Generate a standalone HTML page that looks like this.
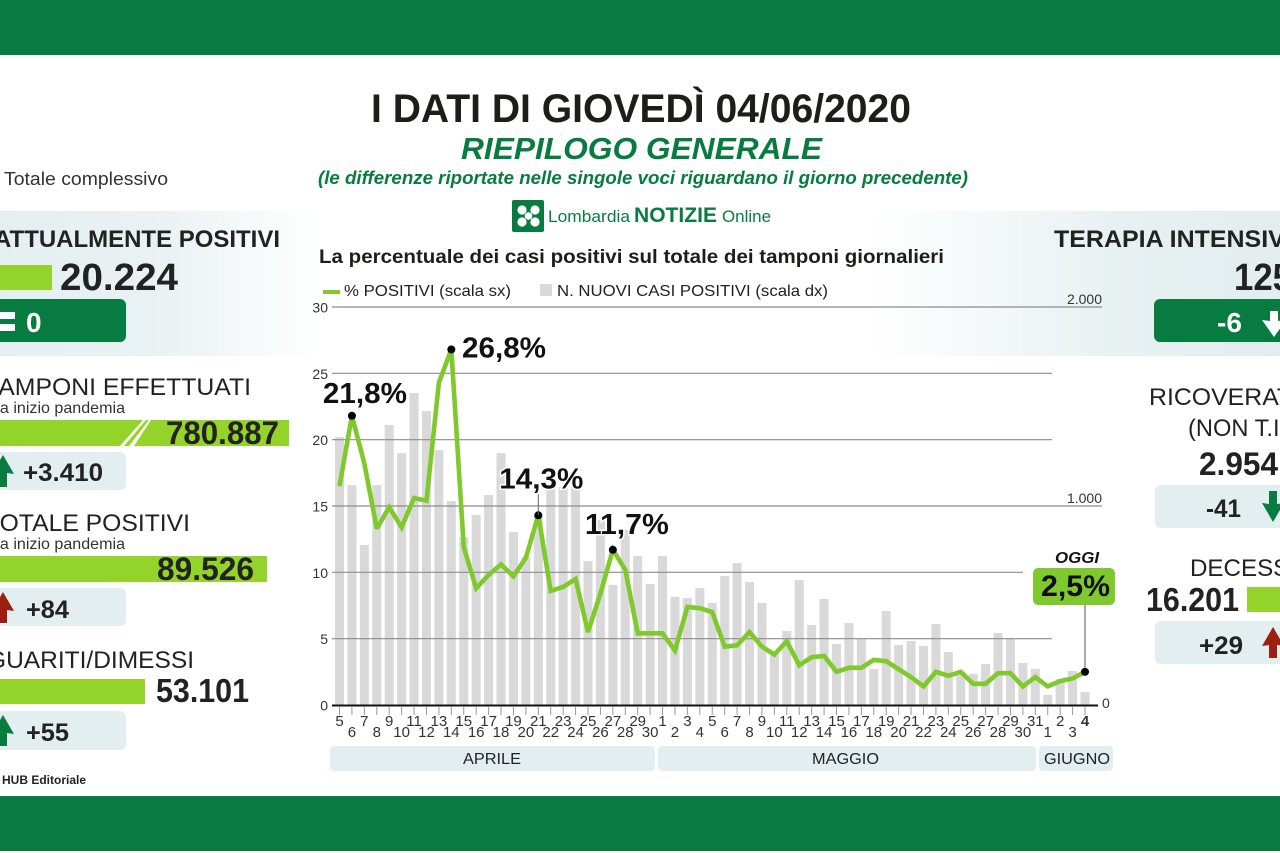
<!DOCTYPE html>
<html lang="it">
<head>
<meta charset="utf-8">
<title>I dati di giovedì 04/06/2020</title>
<style>
html,body{margin:0;padding:0;background:#fff;}
svg{display:block;font-family:"Liberation Sans",Arial,sans-serif;}
.d{fill:#222;}
.b{font-weight:bold;}
</style>
</head>
<body>
<svg id="infographic" xmlns="http://www.w3.org/2000/svg" width="1280" height="853" viewBox="0 0 1280 853">
<defs>
<linearGradient id="panelGrad" x1="0" x2="1" y1="0" y2="0">
<stop offset="0" stop-color="#e5eff1"/>
<stop offset="0.12" stop-color="#e9f1f3"/>
<stop offset="0.18" stop-color="#f3f8f8"/>
<stop offset="0.25" stop-color="#ffffff"/>
<stop offset="0.68" stop-color="#ffffff"/>
<stop offset="0.87" stop-color="#e8f1f2"/>
<stop offset="1" stop-color="#e3edef"/>
</linearGradient>
</defs>

<rect width="1280" height="853" fill="#ffffff"/>
<rect x="0" y="0" width="1280" height="55" fill="#087c40"/>
<rect x="0" y="796" width="1280" height="55" fill="#087c40"/>
<rect x="0" y="211" width="1280" height="145" fill="url(#panelGrad)"/>

<text x="371" y="122" font-size="40" class="b" fill="#1d1d1b" textLength="540" lengthAdjust="spacingAndGlyphs">I DATI DI GIOVEDÌ 04/06/2020</text>
<text x="461" y="159" font-size="31" font-weight="bold" font-style="italic" fill="#087c40" textLength="361" lengthAdjust="spacingAndGlyphs">RIEPILOGO GENERALE</text>
<text x="318" y="184" font-size="18" font-weight="bold" font-style="italic" fill="#087c40" textLength="650" lengthAdjust="spacingAndGlyphs">(le differenze riportate nelle singole voci riguardano il giorno precedente)</text>
<text x="4" y="185" font-size="18" fill="#333" textLength="164" lengthAdjust="spacingAndGlyphs">Totale complessivo</text>

<g>
<rect x="512" y="200" width="32" height="32" rx="2" fill="#087c40"/>
<g fill="#fff">
<circle cx="522" cy="210" r="4.6"/><circle cx="535" cy="210" r="4.6"/><circle cx="522" cy="222" r="4.6"/><circle cx="535" cy="222" r="4.6"/><circle cx="528.5" cy="216" r="3.8"/>
</g>
<text x="548" y="222" font-size="17" fill="#087c40" textLength="82" lengthAdjust="spacingAndGlyphs">Lombardia</text>
<text x="634" y="222" font-size="21" font-weight="bold" fill="#087c40" textLength="83" lengthAdjust="spacingAndGlyphs">NOTIZIE</text>
<text x="722" y="222" font-size="17" fill="#087c40" textLength="49" lengthAdjust="spacingAndGlyphs">Online</text>
</g>

<!-- LEFT COLUMN -->
<g>
<text x="-6" y="247" font-size="24" class="b d" textLength="286" lengthAdjust="spacingAndGlyphs">ATTUALMENTE POSITIVI</text>
<rect x="0" y="265" width="52" height="25" fill="#94d42a"/>
<text x="60" y="290" font-size="38" class="b d" textLength="118" lengthAdjust="spacingAndGlyphs">20.224</text>
<rect x="-10" y="299" width="136" height="43" rx="6" fill="#087c40"/>
<rect x="0" y="312" width="15" height="7" fill="#fff"/>
<rect x="0" y="324" width="15" height="7" fill="#fff"/>
<text x="26" y="332" font-size="28" font-weight="bold" fill="#fff">0</text>

<text x="-15" y="395" font-size="24" fill="#222" textLength="266" lengthAdjust="spacingAndGlyphs">TAMPONI EFFETTUATI</text>
<text x="-9" y="413" font-size="16" fill="#333" textLength="134" lengthAdjust="spacingAndGlyphs">da inizio pandemia</text>
<rect x="0" y="420" width="289" height="26" fill="#94d42a"/>
<polygon points="134,446 120,446 143,420 151,420" fill="#fff"/>
<polygon points="129,446 124,446 146,420 149,420" fill="#94d42a"/>
<text x="166" y="444" font-size="32" class="b d" textLength="113" lengthAdjust="spacingAndGlyphs">780.887</text>
<rect x="-10" y="452" width="136" height="38" rx="6" fill="#e2eeef"/>
<polygon points="3,455 14,474 7,473 7,487 -1,487 -1,473 -8,474" fill="#087c40"/>
<text x="23" y="481" font-size="25" class="b d" textLength="80" lengthAdjust="spacingAndGlyphs">+3.410</text>

<text x="-15" y="531" font-size="24" fill="#222" textLength="205" lengthAdjust="spacingAndGlyphs">TOTALE POSITIVI</text>
<text x="-9" y="549" font-size="16" fill="#333" textLength="134" lengthAdjust="spacingAndGlyphs">da inizio pandemia</text>
<rect x="0" y="556" width="267" height="26" fill="#94d42a"/>
<text x="157" y="580" font-size="32" class="b d" textLength="97" lengthAdjust="spacingAndGlyphs">89.526</text>
<rect x="-10" y="588" width="136" height="38" rx="6" fill="#e2eeef"/>
<polygon points="3,592 14,611 7,610 7,623 -1,623 -1,610 -8,611" fill="#9c2010"/>
<text x="26" y="618" font-size="25" class="b d" textLength="43" lengthAdjust="spacingAndGlyphs">+84</text>

<text x="-13" y="668" font-size="24" fill="#222" textLength="207" lengthAdjust="spacingAndGlyphs">GUARITI/DIMESSI</text>
<rect x="0" y="679" width="145" height="25" fill="#94d42a"/>
<text x="156" y="702" font-size="33" class="b d" textLength="93" lengthAdjust="spacingAndGlyphs">53.101</text>
<rect x="-10" y="711" width="136" height="39" rx="6" fill="#e2eeef"/>
<polygon points="3,715 14,734 7,733 7,746 -1,746 -1,733 -8,734" fill="#087c40"/>
<text x="26" y="741" font-size="25" class="b d" textLength="43" lengthAdjust="spacingAndGlyphs">+55</text>

<text x="2" y="784" font-size="12" class="b d" textLength="84" lengthAdjust="spacingAndGlyphs">HUB Editoriale</text>
</g>

<!-- RIGHT COLUMN -->
<g>
<text x="1054" y="247" font-size="24" class="b d" textLength="247" lengthAdjust="spacingAndGlyphs">TERAPIA INTENSIVA</text>
<text x="1234" y="290" font-size="38" class="b d" textLength="58" lengthAdjust="spacingAndGlyphs">125</text>
<rect x="1154" y="299" width="140" height="43" rx="6" fill="#087c40"/>
<text x="1217" y="332" font-size="28" font-weight="bold" fill="#fff">-6</text>
<polygon points="1274,337 1262,320 1270,321 1270,311 1278,311 1278,321 1286,320" fill="#fff"/>

<text x="1149" y="405" font-size="24" fill="#222" textLength="150" lengthAdjust="spacingAndGlyphs">RICOVERATI</text>
<text x="1188" y="436" font-size="24" fill="#222" textLength="106" lengthAdjust="spacingAndGlyphs">(NON T.I.)</text>
<text x="1199" y="475" font-size="32" class="b d" textLength="79" lengthAdjust="spacingAndGlyphs">2.954</text>
<rect x="1155" y="485" width="139" height="43" rx="6" fill="#e2eeef"/>
<text x="1206" y="517" font-size="25" class="b d" textLength="35" lengthAdjust="spacingAndGlyphs">-41</text>
<polygon points="1273,522 1262,503 1269,504 1269,491 1277,491 1277,504 1284,503" fill="#087c40"/>

<text x="1190" y="576" font-size="24" fill="#222" textLength="106" lengthAdjust="spacingAndGlyphs">DECESSI</text>
<text x="1146" y="611" font-size="33" class="b d" textLength="93" lengthAdjust="spacingAndGlyphs">16.201</text>
<rect x="1247" y="587" width="33" height="25" fill="#94d42a"/>
<rect x="1155" y="621" width="139" height="43" rx="6" fill="#e2eeef"/>
<text x="1199" y="654" font-size="25" class="b d" textLength="44" lengthAdjust="spacingAndGlyphs">+29</text>
<polygon points="1273,627 1284,646 1277,645 1277,658 1269,658 1269,645 1262,646" fill="#9c2010"/>
</g>

<!-- CHART -->
<g id="chart">
<text x="319" y="263" font-size="19" class="b" fill="#1d1d1b" textLength="625" lengthAdjust="spacingAndGlyphs">La percentuale dei casi positivi sul totale dei tamponi giornalieri</text>
<g>
<g>
<line x1="323" x2="340" y1="292" y2="292" stroke="#80ca2e" stroke-width="4"/>
<text x="344" y="296" font-size="16" fill="#222" textLength="167" lengthAdjust="spacingAndGlyphs">% POSITIVI (scala sx)</text>
</g>
<g>
<rect x="540" y="284" width="12" height="12" fill="#d9d9d9"/>
<text x="557" y="296" font-size="16" fill="#222" textLength="271" lengthAdjust="spacingAndGlyphs">N. NUOVI CASI POSITIVI (scala dx)</text>
</g>
</g>
<g id="bars"></g>
<g id="grid"></g>
<g id="xaxis"></g>
<g id="yaxis"></g>
<g id="yaxisr"></g>
<polyline id="pctline" fill="none" stroke="#7fc92d" stroke-width="4.6" stroke-linejoin="miter" stroke-miterlimit="2.5"></polyline>
<g id="callouts"></g>
<g>
<rect x="330" y="746" width="325" height="25" rx="4" fill="#e2eeef"/>
<text x="492" y="764" font-size="16" fill="#222" text-anchor="middle" textLength="58" lengthAdjust="spacingAndGlyphs">APRILE</text>
<rect x="658" y="746" width="378" height="25" rx="4" fill="#e2eeef"/>
<text x="845.5" y="764" font-size="16" fill="#222" text-anchor="middle" textLength="67" lengthAdjust="spacingAndGlyphs">MAGGIO</text>
<rect x="1039" y="746" width="74" height="25" rx="4" fill="#e2eeef"/>
<text x="1077" y="764" font-size="16" fill="#222" text-anchor="middle" textLength="66" lengthAdjust="spacingAndGlyphs">GIUGNO</text>
</g>
</g>
</svg>

<script>
var dayLabels = ["5","6","7","8","9","10","11","12","13","14","15","16","17","18","19","20","21","22","23","24","25","26","27","28","29","30","1","2","3","4","5","6","7","8","9","10","11","12","13","14","15","16","17","18","19","20","21","22","23","24","25","26","27","28","29","30","31","1","2","3","4"];
var pctValues = [16.5,21.8,18.2,13.3,14.9,13.4,15.6,15.4,24.3,26.8,11.9,8.8,9.8,10.6,9.7,11.1,14.3,8.6,8.9,9.5,5.5,8.4,11.7,10.2,5.4,5.4,5.4,4.1,7.4,7.3,7.0,4.4,4.5,5.5,4.4,3.8,4.8,3.0,3.6,3.7,2.5,2.8,2.8,3.4,3.3,2.7,2.1,1.4,2.5,2.2,2.5,1.6,1.6,2.4,2.4,1.4,2.1,1.4,1.8,2.0,2.5];
var newCases = [1347,1105,804,1105,1407,1266,1568,1477,1281,1025,844,955,1055,1266,869,744,950,1095,1095,1095,723,930,603,880,749,608,749,543,538,588,513,648,713,618,513,266,372,628,402,533,307,412,332,181,472,302,322,297,407,266,166,156,206,362,332,211,181,50,131,171,65];
var leftTicks = [0,5,10,15,20,25,30];
var rightTicks = [0,1000,2000];
var rightTickLabels = ["0","1.000","2.000"];
var peakIndexes = [1,9,16,22];
var todayIndex = 60;
var todayLabel = "OGGI";

var NS = "http://www.w3.org/2000/svg";
function xPos(i){ return 339.5 + i * 12.425; }
function yLeft(v){ return 705 - v * 398 / 30; }
function yRight(v){ return 705 - v * 398 / 2000; }
function fmtPct(v){ return v.toFixed(1).replace(".", ",") + "%"; }

var barsG = document.getElementById("bars");
newCases.forEach(function(v, i){
  var r = document.createElementNS(NS, "rect");
  r.setAttribute("x", xPos(i) - 4.5);
  r.setAttribute("y", yRight(v));
  r.setAttribute("width", 9);
  r.setAttribute("height", 705 - yRight(v));
  r.setAttribute("fill", "#d9d9d9");
  
  
  barsG.appendChild(r);
});

var gridG = document.getElementById("grid");
leftTicks.forEach(function(v){
  if (v === 0) { return; }
  var l = document.createElementNS(NS, "line");
  var end = (v === 30 || v === 15) ? 1102 : (v === 10 ? 1023 : 1052);
  l.setAttribute("x1", 332);
  l.setAttribute("x2", end);
  l.setAttribute("y1", yLeft(v));
  l.setAttribute("y2", yLeft(v));
  l.setAttribute("stroke", "#8c8c8c");
  l.setAttribute("stroke-width", 1.2);
  
  
  gridG.appendChild(l);
});

var yG = document.getElementById("yaxis");
leftTicks.forEach(function(v){
  var t = document.createElementNS(NS, "text");
  t.setAttribute("x", 328);
  t.setAttribute("y", yLeft(v) + 5.5);
  t.setAttribute("text-anchor", "end");
  t.setAttribute("font-size", 14);
  t.setAttribute("fill", "#333");
  
  
  t.textContent = String(v);
  yG.appendChild(t);
});

var yrG = document.getElementById("yaxisr");
rightTicks.forEach(function(v, i){
  var t = document.createElementNS(NS, "text");
  t.setAttribute("x", v === 0 ? 1102 : 1102);
  t.setAttribute("y", v === 0 ? yRight(v) + 3 : yRight(v) - 3);
  t.setAttribute("text-anchor", v === 0 ? "start" : "end");
  t.setAttribute("font-size", 14);
  t.setAttribute("fill", "#333");
  
  
  t.textContent = rightTickLabels[i];
  yrG.appendChild(t);
});

var xG = document.getElementById("xaxis");
var axisLine = document.createElementNS(NS, "line");
axisLine.setAttribute("x1", 332);
axisLine.setAttribute("x2", 1098);
axisLine.setAttribute("y1", 705.5);
axisLine.setAttribute("y2", 705.5);
axisLine.setAttribute("stroke", "#111");
axisLine.setAttribute("stroke-width", 2);


xG.appendChild(axisLine);

dayLabels.forEach(function(d, i){
  var tick = document.createElementNS(NS, "line");
  tick.setAttribute("x1", xPos(i));
  tick.setAttribute("x2", xPos(i));
  tick.setAttribute("y1", 707);
  tick.setAttribute("y2", 715);
  tick.setAttribute("stroke", "#999");
  tick.setAttribute("stroke-width", 1);
  
  
  xG.appendChild(tick);
  var t = document.createElementNS(NS, "text");
  t.setAttribute("x", xPos(i));
  t.setAttribute("y", i % 2 === 0 ? 726 : 737);
  t.setAttribute("text-anchor", "middle");
  t.setAttribute("font-size", 15);
  t.setAttribute("fill", "#333");
  if (i === todayIndex) { t.setAttribute("font-weight", "bold"); }
  
  
  t.textContent = d;
  xG.appendChild(t);
});

var linePts = pctValues.map(function(v, i){ return xPos(i) + "," + yLeft(v); }).join(" ");
document.getElementById("pctline").setAttribute("points", linePts);

var callG = document.getElementById("callouts");
function addDot(i){
  var c = document.createElementNS(NS, "circle");
  c.setAttribute("cx", xPos(i));
  c.setAttribute("cy", yLeft(pctValues[i]));
  c.setAttribute("r", 4);
  c.setAttribute("fill", "#000");
  
  
  callG.appendChild(c);
}
function addPeakLabel(i, dx, dy){
  var t = document.createElementNS(NS, "text");
  t.setAttribute("x", xPos(i) + dx);
  t.setAttribute("y", yLeft(pctValues[i]) + dy);
  t.setAttribute("font-size", 29);
  t.setAttribute("font-weight", "bold");
  t.setAttribute("fill", "#111");
  t.setAttribute("stroke", "#fff");
  t.setAttribute("stroke-width", 3);
  t.setAttribute("paint-order", "stroke");
  t.setAttribute("textLength", 84);
  t.setAttribute("lengthAdjust", "spacingAndGlyphs");
  
  
  t.textContent = fmtPct(pctValues[i]);
  callG.appendChild(t);
}
peakIndexes.forEach(function(i, n){
  addDot(i);
  if (n === 0) { addPeakLabel(i, -29, -13); }
  if (n === 1) { addPeakLabel(i, 10.7, 8); }
  if (n === 2) { addPeakLabel(i, -39, -27); }
  if (n === 3) { addPeakLabel(i, -28, -16); }
});

var peakLeader = document.createElementNS(NS, "line");
peakLeader.setAttribute("x1", xPos(16));
peakLeader.setAttribute("x2", xPos(16));
peakLeader.setAttribute("y1", 494);
peakLeader.setAttribute("y2", yLeft(pctValues[16]));
peakLeader.setAttribute("stroke", "#666");
peakLeader.setAttribute("stroke-width", 1);


callG.appendChild(peakLeader);

var todayLeader = document.createElementNS(NS, "line");
todayLeader.setAttribute("x1", xPos(todayIndex));
todayLeader.setAttribute("x2", xPos(todayIndex));
todayLeader.setAttribute("y1", 600);
todayLeader.setAttribute("y2", yLeft(pctValues[todayIndex]));
todayLeader.setAttribute("stroke", "#555");
todayLeader.setAttribute("stroke-width", 1);


callG.appendChild(todayLeader);
addDot(todayIndex);

var todayBox = document.createElementNS(NS, "rect");
todayBox.setAttribute("x", 1033);
todayBox.setAttribute("y", 568);
todayBox.setAttribute("width", 82);
todayBox.setAttribute("height", 37);
todayBox.setAttribute("rx", 5);
todayBox.setAttribute("fill", "#7fc92f");


callG.appendChild(todayBox);

var todayVal = document.createElementNS(NS, "text");
todayVal.setAttribute("x", 1041);
todayVal.setAttribute("y", 596);
todayVal.setAttribute("font-size", 30);
todayVal.setAttribute("font-weight", "bold");
todayVal.setAttribute("fill", "#111");
todayVal.setAttribute("textLength", 69);
todayVal.setAttribute("lengthAdjust", "spacingAndGlyphs");


todayVal.textContent = fmtPct(pctValues[todayIndex]);
callG.appendChild(todayVal);

var todayTxt = document.createElementNS(NS, "text");
todayTxt.setAttribute("x", 1055);
todayTxt.setAttribute("y", 563);
todayTxt.setAttribute("font-size", 16);
todayTxt.setAttribute("font-weight", "bold");
todayTxt.setAttribute("font-style", "italic");
todayTxt.setAttribute("fill", "#111");
todayTxt.setAttribute("textLength", 44);
todayTxt.setAttribute("lengthAdjust", "spacingAndGlyphs");


todayTxt.textContent = todayLabel;
callG.appendChild(todayTxt);
</script>
</body>
</html>
